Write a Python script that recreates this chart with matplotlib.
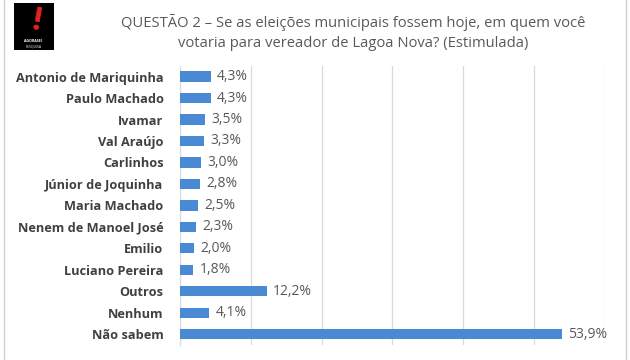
import matplotlib.pyplot as plt
from matplotlib.patches import Rectangle

categories = ['Antonio de Mariquinha', 'Paulo Machado', 'Ivamar', 'Val Araújo', 'Carlinhos',
              'Júnior de Joquinha', 'Maria Machado', 'Nenem de Manoel José', 'Emilio',
              'Luciano Pereira', 'Outros', 'Nenhum', 'Não sabem']
values = [4.3, 4.3, 3.5, 3.3, 3.0, 2.8, 2.5, 2.3, 2.0, 1.8, 12.2, 4.1, 53.9]
title = 'QUESTÃO 2 – Se as eleições municipais fossem hoje, em quem você\nvotaria para vereador de Lagoa Nova? (Estimulada)'

plt.rcParams['font.family'] = ['Open Sans', 'DejaVu Sans']

fig = plt.figure(figsize=(6.3, 3.6), dpi=100)
ax = fig.add_axes([0.286, 0.042, 0.674, 0.775])

y = list(range(len(categories)))
ax.barh(y, values, height=0.48, color='#4a8ad4', zorder=3)
for yi, v in zip(y, values):
    ax.text(v + 0.9, yi, '{:.1f}%'.format(v).replace('.', ','), va='center', ha='left',
            fontsize=10, color='#595959')

ax.set_yticks(y)
ax.set_yticklabels(categories, fontsize=9.2, fontweight='bold', color='#404040')
ax.tick_params(axis='y', length=0, pad=12)
ax.set_xticks(range(0, 61, 10))
ax.set_xticklabels([])
ax.tick_params(axis='x', length=0)
ax.set_xlim(0, 60)
ax.set_ylim(len(categories) - 0.5, -0.5)
ax.grid(axis='x', color='#d9d9d9', linewidth=0.9, zorder=0)
for s in ['top', 'right', 'bottom']:
    ax.spines[s].set_visible(False)
ax.spines['left'].set_color('#d9d9d9')

fig.text(0.560, 0.91, title, ha='center', va='center', fontsize=10.6, color='#595959',
         linespacing=1.4)

# frame
fig.patches.append(Rectangle((0.007, -0.01), 0.987, 1.02, transform=fig.transFigure,
                             fill=False, edgecolor='#d0d0d0', linewidth=1))

# logo
fig.patches.append(Rectangle((0.022, 0.862), 0.063, 0.13, transform=fig.transFigure,
                             facecolor='black', edgecolor='none'))
fig.text(0.057, 0.94, '!', ha='center', va='center', fontsize=24, fontweight='bold',
         color='#e52420', rotation=-10)
fig.text(0.053, 0.886, 'AGORASEI', ha='center', va='center', fontsize=2.6, fontweight='bold',
         color='white')
fig.text(0.053, 0.872, 'PESQUISA', ha='center', va='center', fontsize=2.4, color='white')

fig.savefig('out.png', dpi=100)
